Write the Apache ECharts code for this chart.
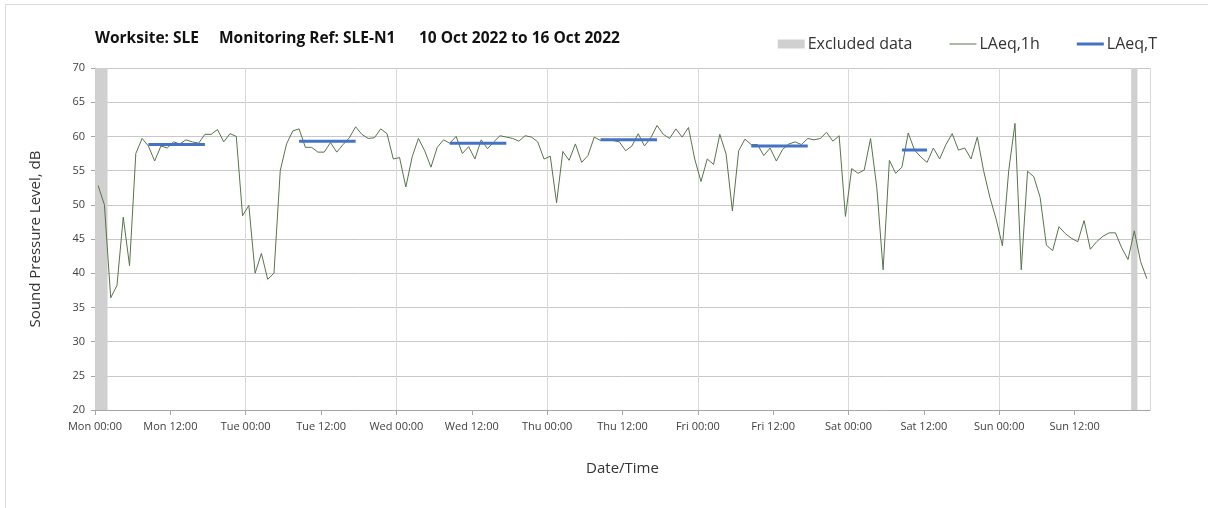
<!DOCTYPE html>
<html>
<head>
<meta charset="utf-8">
<script src="https://cdn.jsdelivr.net/npm/echarts@6/dist/echarts.min.js"></script>
<style>
html, body { margin: 0; padding: 0; background: #fff; }
#container { width: 1208px; height: 508px; }
</style>
</head>
<body>
<div id="container"></div>
<script>
var myChart = echarts.init(document.getElementById("container"));

// hourly LAeq,1h, one value per hour starting Mon 00:00 (plotted at the middle of the hour)
var laeq1h = [
    52.8, 50.0, 36.4, 38.2, 48.2, 41.1, 57.5, 59.7, 58.6, 56.4, 58.6, 58.3,
    59.2, 58.9, 59.5, 59.2, 59.0, 60.3, 60.3, 61.0, 59.2, 60.4, 60.0, 48.4,
    49.9, 40.0, 42.9, 39.1, 40.0, 55.0, 58.9, 60.8, 61.1, 58.4, 58.4, 57.7,
    57.7, 59.1, 57.7, 58.8, 59.8, 61.4, 60.3, 59.7, 59.8, 61.1, 60.4, 56.7,
    56.9, 52.6, 57.0, 59.7, 57.9, 55.5, 58.4, 59.5, 59.0, 60.0, 57.5, 58.5,
    56.7, 59.5, 58.2, 59.2, 60.1, 59.9, 59.7, 59.3, 60.1, 59.9, 59.2, 56.7,
    57.1, 50.3, 57.8, 56.5, 58.9, 56.2, 57.2, 59.9, 59.4, 59.4, 59.4, 59.2,
    57.9, 58.6, 60.4, 58.6, 59.8, 61.6, 60.3, 59.7, 61.1, 59.9, 61.3, 56.7,
    53.4, 56.7, 55.9, 60.3, 57.4, 49.1, 57.9, 59.6, 58.8, 58.8, 57.2, 58.3,
    56.4, 58.1, 58.9, 59.2, 58.8, 59.7, 59.5, 59.7, 60.6, 59.3, 60.1, 48.3,
    55.3, 54.6, 55.1, 59.7, 52.5, 40.5, 56.5, 54.6, 55.5, 60.5, 58.0, 57.0,
    56.2, 58.3, 56.7, 58.8, 60.4, 58.0, 58.3, 56.7, 59.9, 55.0, 51.1, 47.9,
    44.0, 55.0, 61.9, 40.5, 54.9, 54.1, 51.1, 44.1, 43.3, 46.8, 45.8, 45.1,
    44.6, 47.7, 43.5, 44.6, 45.4, 45.9, 45.9, 43.7, 42.0, 46.2, 41.7, 39.2
];

// LAeq,T daytime periods (hours from Mon 00:00)
var periodStart = [8.5, 32.5, 56.5, 80.5, 104.5, 128.5];
var periodEnd = [17.5, 41.5, 65.5, 89.5, 113.5, 132.5];
var periodLevel = [58.8, 59.3, 59.0, 59.5, 58.6, 58.0];

// excluded data (hours from Mon 00:00)
var excludedStart = [0, 165];
var excludedEnd = [2, 166];

var dayNames = ["Mon", "Tue", "Wed", "Thu", "Fri", "Sat", "Sun", "Mon"];

var font = "'Open Sans', sans-serif";

var lineData = laeq1h.map(function (v, i) {
    return [i + 0.5, v];
});

var series = [
    {
        name: "Excluded data",
        type: "line",
        data: [],
        symbol: "none",
        itemStyle: { color: "#d0d0d0" },
        markArea: {
            silent: true,
            itemStyle: { color: "#d0d0d0", opacity: 1 },
            data: excludedStart.map(function (s, i) {
                return [{ xAxis: s }, { xAxis: excludedEnd[i] }];
            })
        }
    },
    {
        name: "LAeq,1h",
        type: "line",
        data: lineData,
        symbol: "none",
        z: 3,
        lineStyle: { width: 1, color: "#56744a" },
        itemStyle: { color: "#56744a" }
    }
];

periodStart.forEach(function (s, i) {
    series.push({
        name: "LAeq,T",
        type: "line",
        data: [[s, periodLevel[i]], [periodEnd[i], periodLevel[i]]],
        symbol: "none",
        z: 4,
        lineStyle: { width: 3, color: "#4472c4" },
        itemStyle: { color: "#4472c4" }
    });
});

myChart.setOption({
    animation: false,
    textStyle: { fontFamily: font },
    title: [
        { text: "Worksite: SLE", left: 90, top: 26 },
        { text: "Monitoring Ref: SLE-N1", left: 214, top: 26 },
        { text: "10 Oct 2022 to 16 Oct 2022", left: 414, top: 26 }
    ].map(function (t) {
        t.textStyle = { fontFamily: font, fontSize: 15.5, fontWeight: "bold", color: "#111" };
        return t;
    }),
    legend: {
        right: 46,
        top: 31,
        itemWidth: 27,
        itemHeight: 9,
        itemGap: 37,
        textStyle: { fontFamily: font, fontSize: 16, color: "#333", padding: [0, 0, 0, -2] },
        data: [
            { name: "Excluded data", icon: "rect" },
            { name: "LAeq,1h", icon: "path://M0,0H27V1H0Z" },
            { name: "LAeq,T", icon: "path://M0,0H27V3H0Z" }
        ]
    },
    graphic: [
        {
            type: "rect",
            shape: { x: 5.5, y: 4.5, width: 1220, height: 520 },
            style: { fill: null, stroke: "#d9d9d9", lineWidth: 1 },
            silent: true
        }
    ],
    grid: { left: 95, right: 58, top: 68, bottom: 98 },
    xAxis: [
        {
            type: "value",
            min: 0,
            max: 168,
            interval: 12,
            name: "Date/Time",
            nameLocation: "middle",
            nameGap: 51,
            nameTextStyle: { fontSize: 15, color: "#333" },
            axisLine: { show: true, onZero: false, lineStyle: { color: "#a6a6a6" } },
            axisTick: { show: true, length: 5, lineStyle: { color: "#a6a6a6" } },
            axisLabel: {
                fontSize: 11,
                color: "#404040",
                margin: 11,
                showMaxLabel: false,
                formatter: function (val) {
                    var d = Math.floor(val / 24);
                    return dayNames[d] + (val % 24 === 0 ? " 00:00" : " 12:00");
                }
            },
            splitLine: { show: false }
        },
        {
            type: "value",
            min: 0,
            max: 168,
            interval: 24,
            position: "bottom",
            axisLine: { show: false },
            axisTick: { show: false },
            axisLabel: { show: false },
            splitLine: { show: true, lineStyle: { color: "#d9d9d9", width: 1 } }
        }
    ],
    yAxis: {
        type: "value",
        min: 20,
        max: 70,
        interval: 5,
        name: "Sound Pressure Level, dB",
        nameLocation: "middle",
        nameGap: 52,
        nameTextStyle: { fontSize: 15, color: "#333" },
        axisLine: { show: true, lineStyle: { color: "#a6a6a6" } },
        axisTick: { show: true, length: 4, lineStyle: { color: "#a6a6a6" } },
        axisLabel: { fontSize: 11, color: "#404040", margin: 10 },
        splitLine: { show: true, lineStyle: { color: "#c8c8c8", width: 1 } }
    },
    series: series
});
</script>
</body>
</html>
